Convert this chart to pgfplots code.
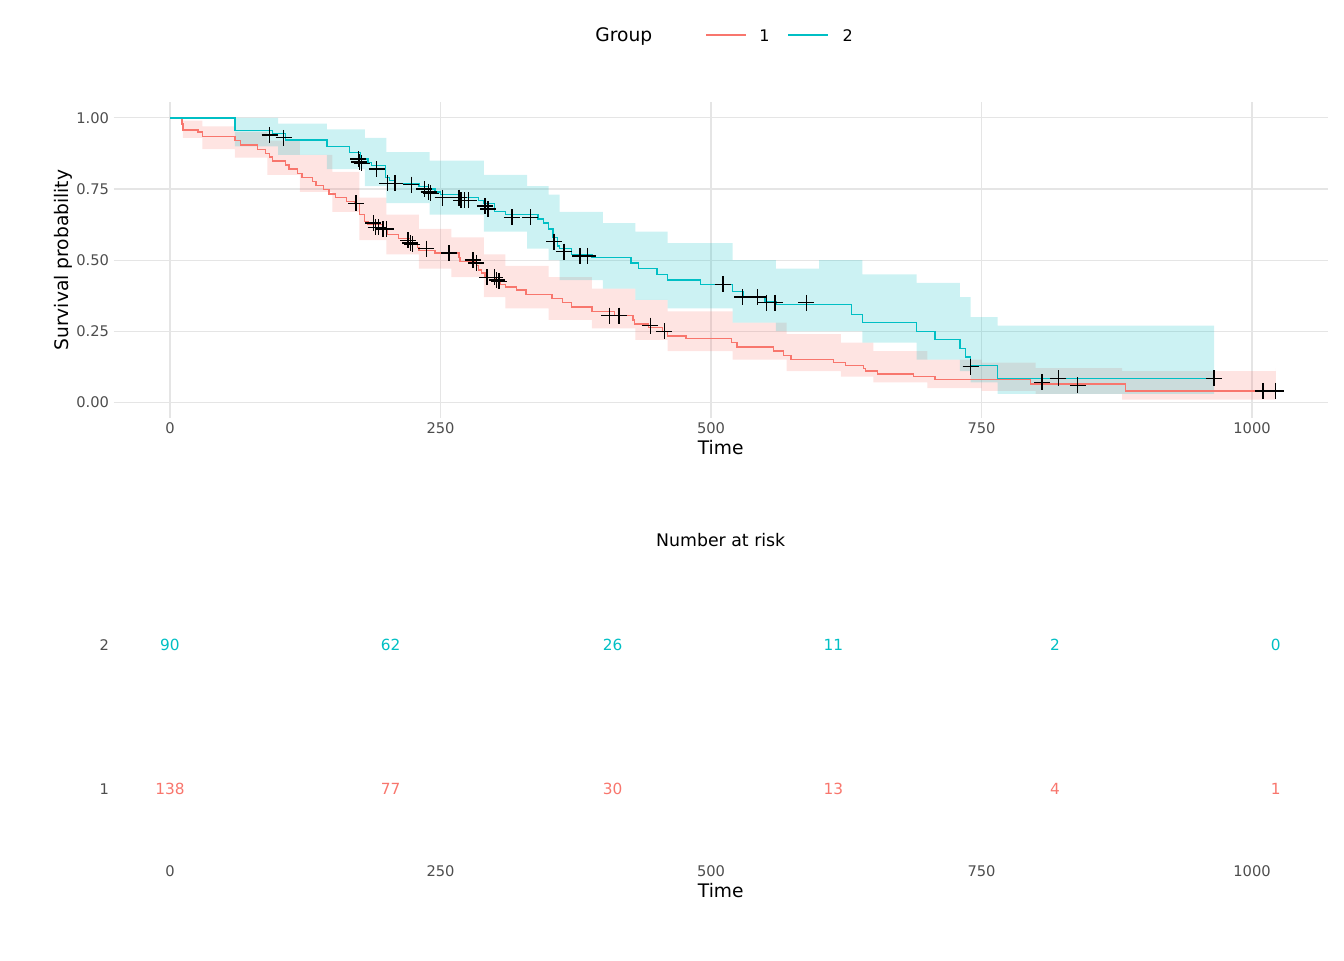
\documentclass[border=0pt]{standalone}
\usepackage{pgfplots}
\pgfplotsset{compat=1.18}
\usepgfplotslibrary{fillbetween}
\usepackage{fontspec}
\setmainfont{DejaVu Sans}
\definecolor{cr}{HTML}{F8766D}
\definecolor{cb}{HTML}{00BFC4}
\definecolor{tk}{HTML}{4D4D4D}
\definecolor{gr}{HTML}{E5E5E5}
\begin{document}
\begin{tikzpicture}
\path (0pt,0pt) rectangle (1008pt,720pt);
% legend
\node[anchor=base west,font=\fontsize{14}{16}\selectfont] at (443pt,688.5pt) {Group};
\draw[color=cr,line width=1.6pt] (529.5pt,693.75pt) -- (559.5pt,693.75pt);
\node[anchor=base west,font=\fontsize{12}{14}\selectfont] at (566pt,688.5pt) {1};
\draw[color=cb,line width=1.6pt] (591pt,693.75pt) -- (621pt,693.75pt);
\node[anchor=base west,font=\fontsize{12}{14}\selectfont] at (628.5pt,688.5pt) {2};
\begin{axis}[at={(85.3pt,406.5pt)},anchor=south west,scale only axis,
 width=910.5pt,height=236.8pt,xmin=-52,xmax=1070,ymin=-0.055,ymax=1.055,
 axis line style={draw=none},tick style={draw=none},
 grid=major,major grid style={gr,line width=0.8pt},
 xtick={0,250,500,750,1000},ytick={0,0.25,0.5,0.75,1},
 yticklabels={0.00,0.25,0.50,0.75,1.00},
 xticklabels={0,250,500,750,1000},
 ticklabel style={tk,font=\fontsize{11}{13}\selectfont},
 /pgf/number format/assume math mode=true,
 xlabel={Time},ylabel={Survival probability},
 label style={font=\fontsize{14}{16}\selectfont},
 xlabel style={yshift=2pt},ylabel style={yshift=-4pt}]
\addplot[draw=none,const plot,name path=rl] coordinates {(0,1)(12,.93)(30,.89)(60,.86)(90,.80)(120,.74)(150,.67)(175,.57)(200,.52)(230,.47)(260,.44)(290,.37)(310,.33)(350,.29)(390,.26)(430,.22)(460,.18)(520,.15)(570,.11)(620,.09)(650,.07)(700,.05)(750,.04)(800,.03)(880,.01)(1022,.01)};
\addplot[draw=none,const plot,name path=rh] coordinates {(0,1)(12,.99)(30,.97)(60,.95)(90,.92)(120,.87)(150,.81)(175,.72)(200,.66)(230,.61)(260,.58)(290,.52)(310,.48)(350,.44)(390,.40)(430,.36)(460,.32)(520,.28)(570,.24)(620,.21)(650,.18)(700,.15)(750,.14)(800,.12)(880,.11)(1022,.12)};
\addplot[cr,opacity=0.2,draw=none] fill between[of=rl and rh];
\addplot[draw=none,const plot,name path=bl] coordinates {(0,1)(60,.90)(100,.87)(145,.82)(180,.76)(200,.70)(240,.66)(290,.60)(330,.54)(350,.50)(360,.43)(400,.40)(430,.36)(460,.33)(520,.28)(560,.25)(600,.25)(640,.21)(690,.15)(730,.11)(740,.07)(765,.03)(965,.03)};
\addplot[draw=none,const plot,name path=bh] coordinates {(0,1)(60,1)(100,.98)(145,.96)(180,.93)(200,.88)(240,.85)(290,.80)(330,.76)(350,.73)(360,.67)(400,.63)(430,.60)(460,.56)(520,.50)(560,.47)(600,.50)(640,.45)(690,.42)(730,.37)(740,.30)(765,.27)(965,.27)};
\addplot[cb,opacity=0.2,draw=none] fill between[of=bl and bh];
\addplot[cr,const plot,line width=1pt] coordinates {(0,1)(11,.978)(12,.957)(26,.95)(30,.935)(60,.92)(65,.905)(81,.89)(88,.876)(92,.862)(95,.848)(107,.834)(110,.82)(118,.805)(122,.79)(132,.776)(135,.762)(142,.748)(147,.733)(153,.719)(163,.705)(171,.70)(175,.66)(180,.635)(183,.625)(197,.61)(201,.59)(211,.575)(222,.56)(229,.545)(230,.535)(245,.525)(267,.51)(268,.495)(283,.48)(285,.465)(288,.455)(291,.44)(301,.43)(305,.415)(310,.405)(320,.395)(329,.38)(353,.365)(363,.35)(371,.335)(390,.32)(411,.305)(428,.29)(429,.275)(442,.262)(455,.248)(460,.233)(477,.225)(519,.21)(524,.195)(558,.18)(567,.165)(574,.15)(613,.14)(624,.13)(641,.12)(643,.11)(654,.1)(687,.09)(707,.08)(795,.065)(883,.04)(1022,.04)};
\addplot[cb,const plot,line width=1pt] coordinates {(0,1)(60,.956)(95,.944)(107,.922)(145,.9)(166,.878)(176,.855)(183,.843)(186,.832)(199,.79)(203,.78)(208,.77)(230,.76)(239,.75)(245,.74)(250,.73)(268,.72)(285,.71)(290,.70)(300,.67)(310,.66)(340,.645)(345,.63)(350,.61)(354,.58)(358,.55)(360,.54)(371,.52)(390,.51)(426,.49)(433,.47)(450,.45)(460,.43)(490,.415)(520,.39)(530,.37)(550,.355)(560,.345)(630,.31)(640,.28)(690,.25)(707,.22)(730,.19)(735,.16)(740,.13)(765,.085)(965,.085)};
\addplot[only marks,mark=+,mark size=6pt,line width=1pt,black] coordinates {(172,.70)(188,.63)(190,.615)(193,.615)(197,.61)(200,.61)(220,.57)(222,.56)(224,.555)(237,.54)(258,.525)(280,.5)(283,.49)(293,.44)(300,.44)(302,.43)(304,.425)(406,.305)(415,.305)(444,.27)(457,.25)(806,.07)(839,.06)(1010,.04)(1022,.04)
(92,.94)(105,.93)(174,.855)(175,.845)(177,.84)(191,.82)(201,.77)(208,.77)(223,.765)(235,.75)(239,.74)(241,.735)(252,.72)(267,.72)(269,.71)(272,.71)(276,.71)(291,.69)(294,.68)(316,.65)(333,.65)(355,.565)(364,.53)(379,.515)(386,.515)(511,.415)(529,.37)(543,.37)(551,.35)(559,.35)(588,.35)(740,.125)(821,.085)(965,.085)};
\end{axis}
\begin{axis}[at={(85.3pt,74.25pt)},anchor=south west,scale only axis,
 width=910.5pt,height=216pt,xmin=-52,xmax=1070,ymin=0.5,ymax=2.5,
 axis line style={draw=none},tick style={draw=none},
 xtick={0,250,500,750,1000},ytick={1,2},
 xticklabels={0,250,500,750,1000},yticklabels={1,2},
 ticklabel style={tk,font=\fontsize{11}{13}\selectfont},
 /pgf/number format/assume math mode=true,
 xlabel={Time},label style={font=\fontsize{14}{16}\selectfont},
 xlabel style={yshift=2pt},clip=false]
\node[font=\fontsize{13}{15}\selectfont] at (rel axis cs:0.5,1.115) {Number at risk};
\addplot[cb,only marks,mark=none,nodes near coords,point meta=explicit symbolic,
 every node near coord/.style={anchor=center,font=\fontsize{11.5}{13}\selectfont}] table[meta=m] {
x y m
0 2 90
204 2 62
409 2 26
613 2 11
818 2 2
1022 2 0
};
\addplot[cr,only marks,mark=none,nodes near coords,point meta=explicit symbolic,
 every node near coord/.style={anchor=center,font=\fontsize{11.5}{13}\selectfont}] table[meta=m] {
x y m
0 1 138
204 1 77
409 1 30
613 1 13
818 1 4
1022 1 1
};
\end{axis}
\end{tikzpicture}
\end{document}
